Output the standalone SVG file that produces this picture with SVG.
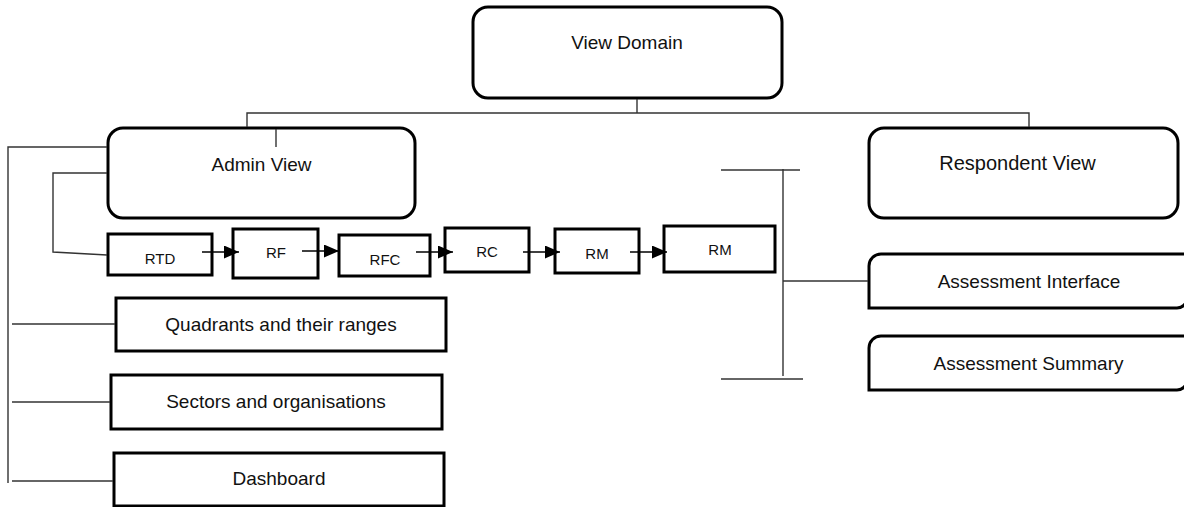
<svg xmlns="http://www.w3.org/2000/svg" width="1184" height="507" viewBox="0 0 1184 507">
<defs>
<marker id="arrow" markerUnits="userSpaceOnUse" markerWidth="17" markerHeight="14" refX="15" refY="6.5" orient="auto">
<path d="M0,0 L15,6.5 L0,13 Z" fill="#000"/>
</marker>
<style>
.box{fill:#fff;stroke:#000;stroke-width:3}
.conn{fill:none;stroke:#333;stroke-width:1.4}
.arr{fill:none;stroke:#000;stroke-width:1.4}
.lbl{font-family:"Liberation Sans",Arial,sans-serif;font-size:19px;fill:#111;text-anchor:middle}
.sm{font-family:"Liberation Sans",Arial,sans-serif;font-size:15px;fill:#111;text-anchor:middle}
</style>
</defs>
<rect width="1184" height="507" fill="#fff"/>
<g id="view-domain">
<rect class="box" x="473" y="7" width="309" height="91" rx="15"/>
<text class="lbl" x="627" y="49">View Domain</text>
</g>
<g id="admin-view">
<rect class="box" x="108" y="128" width="307" height="90" rx="15"/>
<text class="lbl" x="261.5" y="171">Admin View</text>
</g>
<g id="respondent-view">
<rect class="box" x="869" y="128" width="309" height="90" rx="15"/>
<text class="lbl" x="1017.5" y="170" style="font-size:20px">Respondent View</text>
</g>
<g id="rtd">
<rect class="box" x="108" y="234" width="104" height="41"/>
<text class="sm" x="160" y="264">RTD</text>
</g>
<g id="rf">
<rect class="box" x="233" y="229" width="85" height="49"/>
<text class="sm" x="276" y="258">RF</text>
</g>
<g id="rfc">
<rect class="box" x="339" y="235" width="91" height="41"/>
<text class="sm" x="385" y="265">RFC</text>
</g>
<g id="rc">
<rect class="box" x="445" y="228" width="84" height="44"/>
<text class="sm" x="487" y="257">RC</text>
</g>
<g id="rm1">
<rect class="box" x="555" y="229" width="84" height="44"/>
<text class="sm" x="597" y="259">RM</text>
</g>
<g id="rm2">
<rect class="box" x="664" y="226" width="111" height="46"/>
<text class="sm" x="720" y="255">RM</text>
</g>
<g id="quadrants">
<rect class="box" x="116" y="298" width="330" height="53"/>
<text class="lbl" x="281" y="331">Quadrants and their ranges</text>
</g>
<g id="sectors">
<rect class="box" x="111" y="375" width="331" height="54"/>
<text class="lbl" x="276" y="408">Sectors and organisations</text>
</g>
<g id="dashboard">
<rect class="box" x="114" y="453" width="330" height="53"/>
<text class="lbl" x="279" y="485">Dashboard</text>
</g>
<g id="assessment-interface">
<path class="box" d="M869,308 V266 A12,12 0 0 1 881,254 H1187 V298 A10,10 0 0 1 1177,308 Z"/>
<text class="lbl" x="1029" y="288">Assessment Interface</text>
</g>
<g id="assessment-summary">
<path class="box" d="M869,390 V348 A12,12 0 0 1 881,336 H1187 V380 A10,10 0 0 1 1177,390 Z"/>
<text class="lbl" x="1028.5" y="370">Assessment Summary</text>
</g>
<g id="connectors">
<polyline class="conn" points="637,99 637,113"/>
<polyline class="conn" points="247,127 247,113 1029,113 1029,127"/>
<line class="conn" x1="276" y1="129" x2="276" y2="147"/>
<polyline class="conn" points="107,147 8,147 8,483"/>
<line class="conn" x1="12" y1="324" x2="115" y2="324"/>
<line class="conn" x1="12" y1="402" x2="110" y2="402"/>
<line class="conn" x1="12" y1="481" x2="113" y2="481"/>
<polyline class="conn" points="107,173 53,173 53,252 107,255"/>
<line class="conn" x1="721" y1="170" x2="800" y2="170"/>
<line class="conn" x1="783" y1="169" x2="783" y2="376"/>
<line class="conn" x1="721" y1="379" x2="803" y2="379"/>
<line class="conn" x1="783" y1="281" x2="868" y2="281"/>
<line class="arr" x1="202" y1="252" x2="239" y2="252" marker-end="url(#arrow)"/>
<line class="arr" x1="302" y1="251" x2="339" y2="251" marker-end="url(#arrow)"/>
<line class="arr" x1="416" y1="252" x2="453" y2="252" marker-end="url(#arrow)"/>
<line class="arr" x1="523" y1="252" x2="560" y2="252" marker-end="url(#arrow)"/>
<line class="arr" x1="630" y1="252" x2="667" y2="252" marker-end="url(#arrow)"/>
</g>
</svg>
